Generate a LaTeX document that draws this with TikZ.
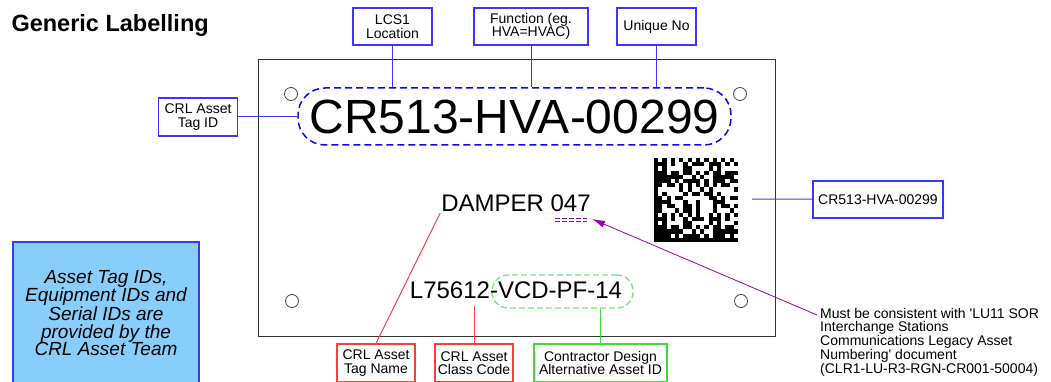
\documentclass[tikz,border=0pt]{standalone}
\usepackage{fontspec}
\setmainfont{Liberation Sans}
\usetikzlibrary{arrows.meta,positioning,calc}
\definecolor{tagblue}{RGB}{55,55,255}
\definecolor{dashblue}{RGB}{10,10,225}
\definecolor{tagred}{RGB}{255,60,60}
\definecolor{taggreen}{RGB}{60,220,60}
\definecolor{greendash}{RGB}{110,235,110}
\definecolor{notepurple}{RGB}{150,0,170}
\definecolor{teamfill}{RGB}{135,206,250}

\begin{document}
\begin{tikzpicture}[x=1pt,y=-1pt,>=Latex, every node/.style={font=\fontsize{14}{13.5}\selectfont}]
\tikzstyle{box}=[draw,line width=1.2pt,align=center,inner sep=0pt,minimum height=37pt]
\tikzstyle{link}=[line width=1pt]
\useasboundingbox (0,0) rectangle (1051,382);
\node[anchor=base west,font=\bfseries\fontsize{23.5}{28}\selectfont] (title) at (8,32) {Generic Labelling};
% label plate
\node[draw=black!80,line width=0.9pt,minimum width=517pt,minimum height=277pt,inner sep=0pt] (plate) at (516.5,197.5) {};
\foreach \p in {(291,94),(740,94),(292,301),(741,301)}
  \draw[black!75,line width=0.8pt] \p circle (6.5);
\node[draw=dashblue,dash pattern=on 7pt off 4pt,line width=1.5pt,rounded corners=27pt,minimum width=433pt,minimum height=57pt,inner sep=0pt,font=\fontsize{48}{50}\selectfont] (tagcode) at (514.5,116.5) {CR513-HVA-00299};
\node[font=\fontsize{24}{26}\selectfont,inner sep=1pt] (name) at (516,203.5) {DAMPER 047};
\node[draw=greendash,dash pattern=on 6pt off 3pt,line width=1.3pt,rounded corners=16pt,minimum width=141pt,minimum height=33pt] (altbox) at (562.5,291.5) {};
\node[font=\fontsize{24}{26}\selectfont] (code) at (516,290.5) {L75612-VCD-PF-14};
\draw[notepurple,dash pattern=on 5pt off 2pt,line width=0.8pt] (555,218) -- (587,218) (555,221) -- (587,221);
% data matrix
\foreach \i in {0,...,19}
  \foreach \j in {0,...,19} {
    \pgfmathtruncatemacro\bit{(\i==0)||(\j==19)||(\j==0&&mod(\i,2)==0)||(\i==19&&mod(\j,2)==1)||(\i>0&&\i<19&&\j>0&&\j<19&&mod(mod(\i*\i*\j,13)*5+mod(\j*\j*\i,13)*3+\i*7+\j*2,13)<6)}
    \ifnum\bit=1 \fill (654+\i*4.2,158+\j*4.2) rectangle ++(4.25,4.25); \fi
  }
% callouts
\node[box,draw=tagblue,minimum width=79pt] (loc) at (392.5,26.5) {LCS1\\Location};
\node[box,draw=tagblue,minimum width=114pt] (func) at (531,26.5) {Function (eg.\\HVA=HVAC)};
\node[box,draw=tagblue,minimum width=79pt] (uniq) at (656.5,26.5) {Unique No};
\node[box,draw=tagblue,minimum width=79pt,minimum height=38pt] (tagid) at (198,117) {CRL Asset\\Tag ID};
\node[box,draw=tagblue,minimum width=130pt] (dmlabel) at (878,199.5) {CR513-HVA-00299};
\node[box,draw=tagred,minimum width=78pt,minimum height=38pt] (tagname) at (376,363) {CRL Asset\\Tag Name};
\node[box,draw=tagred,minimum width=78pt,minimum height=38pt] (class) at (474,363) {CRL Asset\\Class Code};
\node[box,draw=taggreen,minimum width=133pt,minimum height=38pt] (altid) at (600.5,363) {Contractor Design\\Alternative Asset ID};
\node[box,draw=tagblue,fill=teamfill,minimum width=186pt,minimum height=142pt,font=\itshape\fontsize{19}{17.5}\selectfont] (team) at (106,313) {Asset Tag IDs,\\Equipment IDs and\\Serial IDs are\\provided by the\\CRL Asset Team};
\node[anchor=north west,align=left,inner sep=0pt,font=\fontsize{14}{13}\selectfont] (note) at (820,308) {Must be consistent with \textquotesingle LU11 SOR\\Interchange Stations\\Communications Legacy Asset\\Numbering\textquotesingle{} document\\(CLR1-LU-R3-RGN-CR001-50004)};
\coordinate (dmpt) at (752,199);
\coordinate (classpt) at (474,306);
\coordinate (dmark) at (592,219);
\draw[link,tagblue] (loc) -- (loc |- tagcode.north);
\draw[link,tagblue] (func) -- (func |- tagcode.north);
\draw[link,tagblue] (uniq) -- (uniq |- tagcode.north);
\draw[link,tagblue] (tagid) -- (tagid -| tagcode.west);
\draw[link,tagblue] (dmpt) -- (dmlabel);
\draw[link,tagred] (tagname.north) -- (name.south west);
\draw[link,tagred] (class) -- (classpt);
\draw[link,taggreen] (altid) -- (altid |- altbox.south);
\draw[->,notepurple,line width=0.8pt,-{Latex[length=13pt,width=7pt]}] ([shift={(-3,7)}]note.north west) -- (dmark);
\end{tikzpicture}
\end{document}
